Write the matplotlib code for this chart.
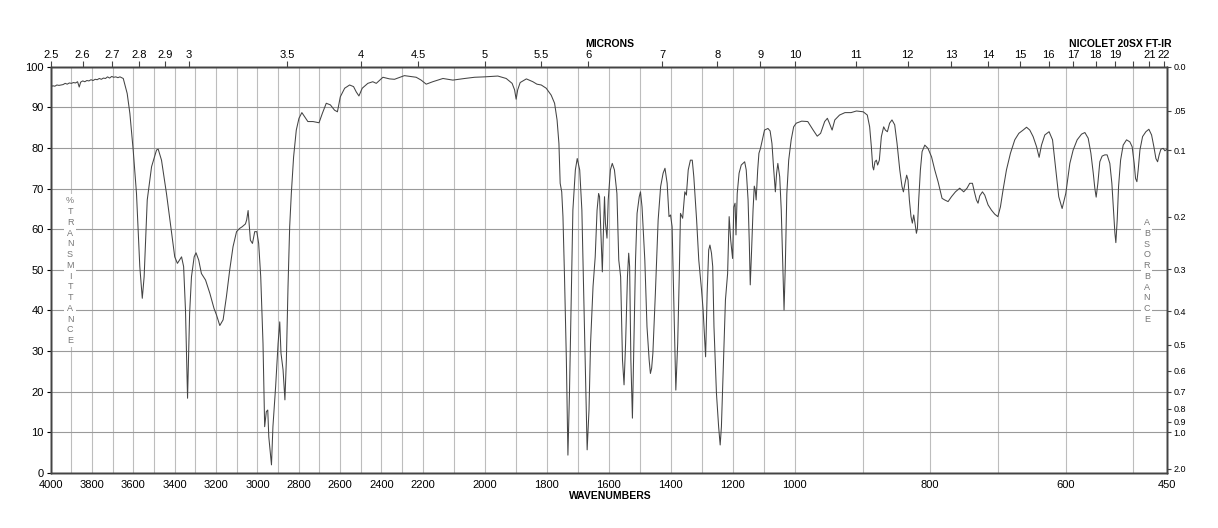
"""Recreate a Nicolet 20SX FT-IR transmittance spectrum chart."""
from __future__ import annotations

import matplotlib

matplotlib.use("Agg")
import matplotlib.pyplot as plt
import numpy as np

plt.rcParams["font.family"] = ["Liberation Sans", "DejaVu Sans"]

# Spectrum: wavenumber (cm-1) and %T
WAVENUMBER = [
    4000, 3990, 3980, 3970, 3960, 3950, 3940, 3930, 3920, 3910, 3900, 3890, 3880, 3870,
    3862, 3855, 3845, 3835, 3825, 3815, 3805, 3795, 3785, 3775, 3765, 3755, 3745, 3735,
    3725, 3715, 3705, 3695, 3685, 3675, 3665, 3649, 3630, 3617, 3601, 3585, 3569, 3557,
    3548, 3533, 3512, 3488, 3480, 3464, 3440, 3415, 3400, 3387, 3367, 3357, 3348, 3338,
    3328, 3319, 3306, 3297, 3284, 3271, 3251, 3230, 3210, 3198, 3182, 3166, 3150, 3134,
    3118, 3101, 3086, 3074, 3058, 3052, 3045, 3039, 3034, 3024, 3013, 3003, 2994, 2984,
    2973, 2965, 2957, 2950, 2945, 2932, 2925, 2912, 2900, 2892, 2886, 2876, 2867, 2860,
    2852, 2844, 2836, 2825, 2812, 2799, 2785, 2772, 2756, 2731, 2702, 2686, 2667, 2647,
    2627, 2613, 2599, 2578, 2554, 2535, 2522, 2509, 2493, 2466, 2442, 2425, 2393, 2361,
    2337, 2289, 2232, 2208, 2189, 2168, 2135, 2103, 2065, 2033, 2001, 1958, 1931, 1912,
    1904, 1899, 1894, 1886, 1866, 1845, 1832, 1818, 1802, 1786, 1775, 1767, 1761, 1757,
    1752, 1748, 1743, 1737, 1732, 1727, 1721, 1716, 1708, 1702, 1694, 1687, 1681, 1675,
    1670, 1664, 1659, 1651, 1644, 1638, 1633, 1630, 1624, 1621, 1618, 1614, 1611, 1606,
    1602, 1595, 1589, 1582, 1574, 1568, 1562, 1556, 1551, 1546, 1540, 1536, 1533, 1529,
    1524, 1520, 1514, 1509, 1502, 1498, 1493, 1484, 1477, 1470, 1466, 1462, 1458, 1450,
    1441, 1433, 1425, 1419, 1412, 1406, 1401, 1396, 1390, 1384, 1378, 1373, 1369, 1362,
    1359, 1355, 1350, 1344, 1337, 1331, 1326, 1317, 1310, 1301, 1296, 1292, 1288, 1283,
    1278, 1274, 1269, 1265, 1261, 1253, 1246, 1241, 1237, 1230, 1224, 1217, 1212, 1207,
    1201, 1197, 1193, 1190, 1186, 1180, 1173, 1162, 1157, 1151, 1147, 1144, 1140, 1135,
    1131, 1128, 1125, 1120, 1116, 1111, 1105, 1098, 1087, 1080, 1074, 1069, 1063, 1059,
    1055, 1049, 1044, 1039, 1035, 1031, 1026, 1020, 1012, 1004, 998, 990, 981, 973,
    967, 962, 956, 952, 949, 945, 941, 934, 926, 917, 909, 899, 893, 889.5,
    887, 885, 883.6, 881.7, 879.6, 877.7, 875.2, 872.2, 868.8, 866.3, 863.3, 860, 856.5, 852.5,
    849, 845, 841.7, 839.6, 837.3, 834.8, 832.8, 830.8, 828.4, 826.4, 824.4, 822.5, 820.4, 818.9,
    817, 814.5, 812, 808, 803.3, 798, 793.3, 788.4, 782.5, 778.5, 773.6, 768.6, 762.7, 756.4,
    750.5, 745.6, 741.6, 737.6, 734.7, 731.7, 729.3, 726.8, 722.8, 719.4, 714.5, 709.5, 704.6, 700,
    696.2, 692.3, 687.3, 681.4, 675, 669, 662.7, 657.6, 652.8, 647.9, 642.8, 639, 635.5, 630.6,
    624.3, 619.2, 614.4, 610, 605, 599.6, 593.6, 588.7, 582.8, 576.3, 571.4, 566.5, 562.5, 559,
    556.7, 554.7, 552.2, 549.3, 545.9, 541.9, 538.5, 534.5, 531.5, 529, 527, 525.6, 523.6, 521.6,
    518.6, 514.8, 509.8, 504.9, 501.5, 498.5, 496.5, 494.5, 492.6, 490, 486.1, 481.2, 476.8, 472.8,
    469.4, 466.4, 463.9, 461.6, 459, 455.6, 453.1, 450,
]
TRANSMITTANCE = [
    95.0, 95.3, 95.2, 95.5, 95.4, 95.5, 95.6, 95.9, 95.7, 96.0, 95.9, 96.1, 96.0, 96.3,
    95.0, 96.2, 96.5, 96.3, 96.6, 96.5, 96.8, 96.6, 96.9, 96.8, 97.1, 96.9, 97.2, 97.1,
    97.5, 97.2, 97.6, 97.4, 97.5, 97.3, 97.5, 97.1, 93.4, 88.5, 79.5, 68.8, 50.8, 43.0,
    48.3, 67.2, 75.4, 79.5, 79.7, 77.0, 68.8, 59.0, 53.2, 51.6, 53.2, 50.8, 40.1, 18.4,
    39.3, 48.3, 53.2, 54.2, 52.4, 49.1, 47.5, 44.2, 40.5, 38.9, 36.3, 37.7, 43.4, 50.0,
    55.7, 59.4, 60.2, 60.6, 61.3, 62.3, 64.6, 60.6, 57.3, 56.5, 59.4, 59.4, 56.5, 48.3,
    31.9, 11.4, 15.1, 15.5, 8.9, 2.0, 11.4, 21.2, 31.9, 37.2, 29.5, 25.4, 18.0, 27.8,
    45.9, 60.6, 68.8, 77.8, 84.4, 87.3, 88.7, 87.7, 86.5, 86.5, 86.2, 88.5, 91.0, 90.6,
    89.3, 88.9, 92.6, 94.7, 95.5, 95.1, 93.8, 92.8, 94.7, 95.9, 96.3, 95.9, 97.4, 97.0,
    96.9, 97.8, 97.4, 96.7, 95.7, 96.3, 97.1, 96.7, 97.1, 97.4, 97.5, 97.7, 97.1, 95.9,
    94.3, 92.0, 94.3, 96.1, 97.0, 96.3, 95.7, 95.5, 94.7, 93.0, 91.0, 86.9, 81.1, 71.3,
    69.2, 63.1, 48.3, 27.8, 4.4, 19.6, 44.2, 64.7, 74.6, 77.4, 74.6, 64.7, 44.2, 23.7,
    5.7, 15.5, 31.9, 45.9, 53.2, 64.7, 68.8, 68.0, 55.7, 49.5, 58.2, 68.0, 61.5, 57.8,
    67.2, 74.6, 76.2, 74.6, 68.8, 52.4, 48.3, 27.8, 21.7, 31.9, 48.3, 54.1, 50.8, 27.8,
    13.5, 29.5, 52.4, 63.9, 68.0, 69.2, 65.5, 52.4, 36.0, 27.8, 24.5, 25.8, 29.5, 44.2,
    62.3, 70.5, 73.8, 75.0, 71.3, 63.1, 63.5, 60.6, 40.1, 20.4, 31.9, 48.3, 63.9, 62.7,
    65.5, 69.2, 68.4, 74.6, 77.0, 77.0, 72.9, 62.3, 52.4, 45.0, 40.1, 34.4, 28.6, 44.2,
    54.9, 56.1, 54.1, 50.8, 36.0, 19.6, 11.4, 6.9, 11.4, 27.8, 42.6, 49.1, 63.1, 57.3,
    52.8, 65.5, 66.4, 58.6, 68.8, 73.8, 75.8, 76.6, 74.6, 67.2, 56.5, 46.3, 54.1, 64.7,
    70.6, 69.7, 67.2, 74.6, 78.7, 79.9, 82.0, 84.4, 84.8, 84.2, 81.1, 75.4, 69.2, 73.8,
    76.2, 72.9, 64.7, 50.8, 40.1, 50.8, 68.8, 77.0, 82.0, 85.2, 86.1, 86.6, 86.5, 84.4,
    82.9, 83.6, 86.5, 87.3, 86.1, 84.4, 86.9, 88.1, 88.7, 88.7, 89.1, 88.9, 88.1, 85.2,
    80.3, 75.4, 74.6, 76.6, 77.0, 75.8, 77.0, 82.8, 85.2, 84.4, 84.0, 86.1, 86.9, 85.7,
    81.1, 74.6, 70.5, 69.2, 71.3, 73.3, 72.1, 67.2, 63.1, 61.5, 63.5, 61.5, 59.0, 60.2,
    67.2, 74.6, 79.1, 80.7, 79.9, 77.8, 74.6, 71.7, 67.6, 67.2, 66.8, 68.0, 69.2, 70.1,
    69.2, 70.1, 71.3, 71.3, 69.2, 67.2, 66.4, 68.2, 69.2, 68.4, 66.0, 64.7, 63.7, 63.1,
    65.5, 69.7, 74.6, 78.7, 82.0, 83.6, 84.4, 85.1, 84.4, 82.8, 80.3, 77.7, 80.7, 83.2,
    84.0, 82.0, 74.6, 68.0, 65.1, 68.8, 76.2, 79.5, 82.0, 83.4, 83.8, 82.4, 78.7, 73.8,
    70.1, 67.9, 71.3, 76.6, 78.0, 78.3, 78.3, 76.2, 71.3, 64.7, 59.0, 56.7, 62.3, 70.5,
    77.0, 80.7, 82.0, 81.5, 80.3, 76.2, 72.5, 71.7, 74.6, 79.5, 82.8, 84.0, 84.6, 83.2,
    80.3, 77.4, 76.6, 78.3, 79.7, 79.9, 79.3, 79.7,
]

# Axis ticks
WN_TICKS = [4000, 3800, 3600, 3400, 3200, 3000, 2800, 2600, 2400, 2200, 2000,
            1800, 1600, 1400, 1200, 1000, 800, 600, 450]
WN_GRID = list(range(3900, 999, -100)) + [900, 800, 700, 600, 500]
MICRON_TICKS = [2.5, 2.6, 2.7, 2.8, 2.9, 3, 3.5, 4, 4.5, 5, 5.5, 6, 7, 8, 9, 10, 11, 12,
                13, 14, 15, 16, 17, 18, 19, 20, 21, 22]
MICRON_LABELS = ["2.5", "2.6", "2.7", "2.8", "2.9", "3", "3.5", "4", "4.5", "5", "5.5",
                 "6", "7", "8", "9", "10", "11", "12", "13", "14", "15", "16", "17", "18",
                 "19", "", "21", "22"]
T_TICKS = list(range(0, 101, 10))
ABS_TICKS = [0.0, 0.05, 0.1, 0.2, 0.3, 0.4, 0.5, 0.6, 0.7, 0.8, 0.9, 1.0, 2.0]
ABS_LABELS = ["0.0", ".05", "0.1", "0.2", "0.3", "0.4", "0.5", "0.6", "0.7", "0.8", "0.9",
              "1.0", "2.0"]

# chart paper: three equal-width panels 4000-2200, 2200-1000, 1000-450
BREAK_WN = [450, 1000, 2200, 4000]
BREAK_POS = [0, 1, 2, 3]


def wn_forward(w):
    w = np.asarray(w, dtype=float)
    out = np.interp(w, BREAK_WN, BREAK_POS)
    out = np.where(w > 4000, 3 + (w - 4000) / 1800, out)
    return np.where(w < 450, (w - 450) / 550, out)


def wn_inverse(p):
    p = np.asarray(p, dtype=float)
    out = np.interp(p, BREAK_POS, BREAK_WN)
    out = np.where(p > 3, 4000 + (p - 3) * 1800, out)
    return np.where(p < 0, 450 + p * 550, out)


def plot_spectrum() -> None:
    fig = plt.figure(figsize=(12.18, 5.28), dpi=100)
    ax = fig.add_axes([50.7 / 1218, 1 - 473 / 528, 1116.3 / 1218, 406.3 / 528])

    ax.set_xscale("function", functions=(wn_forward, wn_inverse))
    ax.set_xlim(4000, 450)
    ax.set_ylim(0, 100)

    ax.plot(WAVENUMBER, TRANSMITTANCE, color="#444444", linewidth=0.75, zorder=3)

    # grid
    ax.set_xticks(WN_TICKS)
    ax.set_xticklabels([str(v) for v in WN_TICKS])
    ax.set_xticks(WN_GRID, minor=True)
    ax.set_yticks(T_TICKS)
    ax.grid(axis="x", which="both", color="#bdbdbd", linewidth=0.8)
    ax.grid(axis="y", which="major", color="#9a9a9a", linewidth=0.8)
    ax.tick_params(axis="x", which="minor", length=0)
    ax.tick_params(axis="x", which="major", length=0, labelsize=8, pad=5)
    ax.tick_params(axis="y", length=3, labelsize=8, pad=2)
    for spine in ax.spines.values():
        spine.set_color("#444444")
        spine.set_linewidth(1.0)

    # microns on top: same wavenumber scale, ticks placed at 1e4 / micron
    top = ax.twiny()
    top.set_xscale("function", functions=(wn_forward, wn_inverse))
    top.set_xlim(4000, 450)
    top.set_xticks([1e4 / m for m in MICRON_TICKS])
    top.set_xticklabels(MICRON_LABELS)
    top.xaxis.set_minor_locator(matplotlib.ticker.NullLocator())
    top.tick_params(length=4, labelsize=8, pad=1, color="#444444")

    # absorbance on right: ticks at %T = 100 * 10^-A
    right = ax.twinx()
    right.set_ylim(0, 100)
    right.set_yticks([100 * 10 ** (-a) for a in ABS_TICKS])
    right.set_yticklabels(ABS_LABELS)
    right.tick_params(length=3, labelsize=6.5, pad=1.5, color="#444444")
    for a in (top, right):
        for spine in a.spines.values():
            spine.set_color("#444444")
            spine.set_linewidth(1.0)

    # stacked axis captions inside plot
    ax.text(0.0173, 0.498, "\n".join("%TRANSMITTANCE"), transform=ax.transAxes,
            ha="center", va="center", fontsize=6.5, color="#777777", linespacing=1.25,
            bbox=dict(facecolor="white", edgecolor="none", pad=1.5), zorder=4)
    ax.text(0.982, 0.497, "\n".join("ABSORBANCE"), transform=ax.transAxes,
            ha="center", va="center", fontsize=6.5, color="#777777", linespacing=1.25,
            bbox=dict(facecolor="white", edgecolor="none", pad=1.5), zorder=4)

    fig.text(610 / 1218, 1 - 44 / 528, "MICRONS", ha="center", va="center",
             fontsize=7.5, fontweight="bold")
    fig.text(1120 / 1218, 1 - 44 / 528, "NICOLET 20SX FT-IR", ha="center", va="center",
             fontsize=7.5, fontweight="bold")
    fig.text(610 / 1218, 1 - 496 / 528, "WAVENUMBERS", ha="center", va="center",
             fontsize=7.5, fontweight="bold")

    fig.savefig("out.png", dpi=100)
    plt.close(fig)


def main() -> None:
    plot_spectrum()


if __name__ == "__main__":
    main()
